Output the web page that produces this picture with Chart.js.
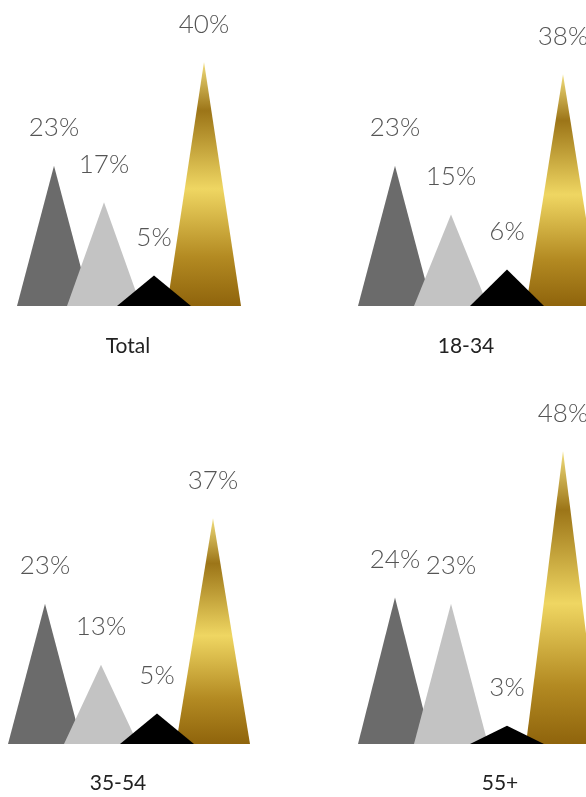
<!DOCTYPE html>
<html>
<head>
<meta charset="utf-8">
<script src="https://cdn.jsdelivr.net/npm/chart.js@4.4.1/dist/chart.umd.min.js"></script>
<style>
  html, body { margin: 0; padding: 0; background: #fff; overflow: hidden; width: 586px; height: 797px; }
  canvas { position: absolute; }
</style>
</head>
<body>
<canvas id="chartTotal" width="300" height="390" style="left:0;top:0"></canvas>
<canvas id="chart1834" width="320" height="390" style="left:293px;top:0"></canvas>
<canvas id="chart3554" width="300" height="407" style="left:0;top:390px"></canvas>
<canvas id="chart55" width="320" height="407" style="left:293px;top:390px"></canvas>
<script>
// data
const groupNames = ['Total', '18-34', '35-54', '55+'];
const peakCategories = ['Segment 1', 'Segment 2', 'Segment 3', 'Segment 4'];
const totalValues = [23, 17, 5, 40];
const age1834Values = [23, 15, 6, 38];
const age3554Values = [23, 13, 5, 37];
const age55Values = [24, 23, 3, 48];

const peakColors = ['#6b6b6b', '#c3c3c3', '#000000', null]; // last one is the gold gradient

// draws a triangle for every bar, then the value labels and the group name
const peakPlugin = {
    id: 'peaks',
    afterDatasetsDraw(chart, args, opts) {
        const ctx = chart.ctx;
        const meta = chart.getDatasetMeta(0);
        const values = chart.data.datasets[0].data;
        const half = opts.halfBase;

        ctx.save();
        [0, 1, 3, 2].forEach(i => {
            const bar = meta.data[i];
            ctx.beginPath();
            ctx.moveTo(bar.x - half, bar.base);
            ctx.lineTo(bar.x, bar.y);
            ctx.lineTo(bar.x + half, bar.base);
            ctx.closePath();
            if (peakColors[i]) {
                ctx.fillStyle = peakColors[i];
            } else {
                const g = ctx.createLinearGradient(0, bar.y, 0, bar.base);
                g.addColorStop(0, '#f2de7c');
                g.addColorStop(0.2, '#9c7518');
                g.addColorStop(0.52, '#efd662');
                g.addColorStop(0.8, '#b38a22');
                g.addColorStop(1, '#8f640c');
                ctx.fillStyle = g;
            }
            ctx.fill();
        });

        ctx.textAlign = 'center';
        ctx.textBaseline = 'alphabetic';
        ctx.font = '300 26px Lato, "Open Sans", sans-serif';
        ctx.fillStyle = '#555555';
        meta.data.forEach((bar, i) => {
            ctx.fillText(values[i] + '%', bar.x, bar.y - 29.5);
        });

        ctx.font = '400 21px Lato, "Open Sans", sans-serif';
        ctx.fillStyle = '#222222';
        ctx.fillText(opts.name, opts.nameX, opts.nameY);
        ctx.restore();
    }
};

const makePeaks = (id, values, name, padding, nameX, nameY) => {
    new Chart(document.getElementById(id), {
        type: 'bar',
        data: {
            labels: peakCategories,
            datasets: [{
                data: values,
                backgroundColor: 'transparent',
                borderWidth: 0
            }]
        },
        options: {
            responsive: false,
            animation: false,
            events: [],
            layout: { padding: padding },
            scales: {
                x: { display: false },
                y: { display: false, min: 0, max: 50 }
            },
            plugins: {
                legend: { display: false },
                tooltip: { enabled: false },
                peaks: { halfBase: 37, name: name, nameX: nameX, nameY: nameY }
            }
        },
        plugins: [peakPlugin]
    });
};

makePeaks('chartTotal', totalValues, groupNames[0], { left: 29, right: 71, top: 1, bottom: 84 }, 128, 353);
makePeaks('chart1834', age1834Values, groupNames[1], { left: 74, right: 22, top: 1, bottom: 84 }, 173, 353);
makePeaks('chart3554', age3554Values, groupNames[2], { left: 17, right: 59, top: 49, bottom: 53 }, 118, 400);
makePeaks('chart55', age55Values, groupNames[3], { left: 74, right: 22, top: 49, bottom: 53 }, 207, 400);
</script>
</body>
</html>
